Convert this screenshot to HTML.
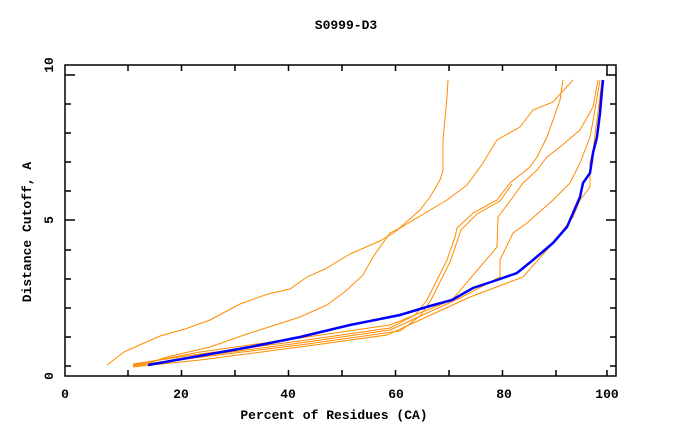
<!DOCTYPE html>
<html><head><style>
html,body{margin:0;padding:0;background:#fff;}
svg text{font-family:"Liberation Mono","DejaVu Sans Mono",monospace;font-weight:bold;font-size:13px;fill:#000;}
</style></head><body>
<svg width="680" height="440" viewBox="0 0 680 440" xmlns="http://www.w3.org/2000/svg">
<rect x="0" y="0" width="680" height="440" fill="#fff"/>
<text x="346" y="29" text-anchor="middle">S0999-D3</text>
<text x="334" y="419" text-anchor="middle">Percent of Residues (CA)</text>
<text transform="translate(31,232) rotate(-90)" text-anchor="middle">Distance Cutoff, A</text>
<g text-anchor="middle">
<text x="65" y="398">0</text><text x="181" y="398">20</text><text x="288" y="398">40</text>
<text x="396" y="398">60</text><text x="504" y="398">80</text><text x="607" y="398">100</text>
<text transform="translate(53,376) rotate(-90)">0</text>
<text transform="translate(53,220) rotate(-90)">5</text>
<text transform="translate(53,65) rotate(-90)">10</text>
</g>
<g stroke="#000" stroke-width="1.5" fill="none">
<rect x="65" y="65" width="551" height="311"/>
<path d="M128,376v-6M181.5,376v-6M235,376v-6M288.5,376v-6M342,376v-6M395.5,376v-6M449,376v-6M502.5,376v-6M556,376v-6M607,376v-6
M128,65v6M181.5,65v6M235,65v6M288.5,65v6M342,65v6M395.5,65v6M449,65v6M502.5,65v6M556,65v6M607,65v10
M65,75h10M65,104h6M65,133h6M65,162h6M65,191h6M65,220h10M65,250h6M65,279h6M65,308h6M65,337h6M65,366h6
M616,75h-10M616,104h-6M616,133h-6M616,162h-6M616,191h-6M616,220h-10M616,250h-6M616,279h-6M616,308h-6M616,337h-6M616,366h-6"/>
</g>
<g stroke="#ff8c00" stroke-width="1" fill="none">
<polyline points="107,365 124,352 133,348 160,336 185,329 210,320 240,304 268,294 290,289 307,277 325,269 350,254 380,241 395,232 420,210 430,197 440,180 443,170 443,140 447,97 448,80"/>
<polyline points="143,365 167,357 210,347 250,333 300,317 327,305 347,290 363,275 373,257 390,233 400,228 447,200 467,185 483,163 497,140 520,127 533,110 553,102 573,80"/>
<polyline points="133,364 200,354 300,341 390,328 415,315 427,300 442,270 447,260 455,237 457,228 473,213 497,200 510,183 530,167 537,157 547,137 553,120 560,100 563,80"/>
<polyline points="137,365 210,356 300,345 400,331 420,316 431,300 445,272 450,262 458,239 461,230 477,214 500,201 512,184"/>
<polyline points="133,365 200,352 300,338 390,325 452,300 480,267 497,247 498,217 513,197 523,183 537,170 547,157 560,147 580,130 593,107 598,80"/>
<polyline points="133,366 200,356 300,343 390,330 460,298 500,277 500,260 513,233 527,223 553,200 570,183 580,163 590,137 595,110 600,80"/>
<polyline points="133,367 200,360 300,347 387,335 420,320 470,297 523,277 553,243 573,217 580,200 590,187 590,163 593,150 597,120 602,80"/>
</g>
<polyline fill="none" stroke="#0000ff" stroke-width="2.5" points="148,365 250,347 300,337 350,325 400,315 430,306 452,300 473,288 497,280 517,273 533,260 553,243 567,227 580,197 583,183 590,173 593,153 597,137 600,113 602,90 603,80"/>
</svg>
</body></html>
